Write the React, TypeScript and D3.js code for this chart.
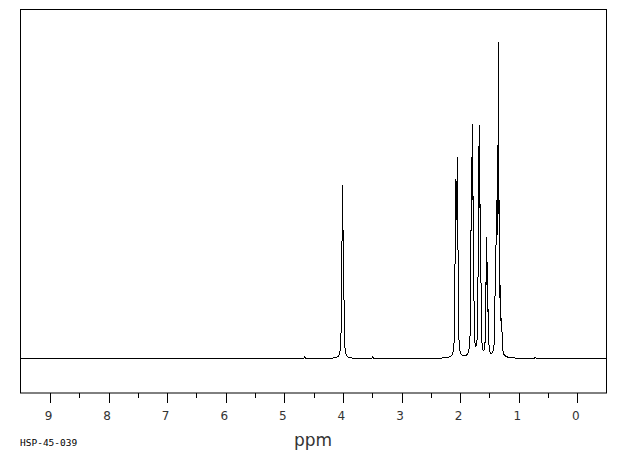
import React from "react";
import * as d3 from "d3";

// Peak list: chemical shift (ppm) and line intensity (tallest line ~ 100)
const PEAK_PPM = [
  4.65, 4.023, 4.011, 3.999, 3.987, 3.49,
  2.085, 2.071, 2.059, 2.048, 2.036,
  1.815, 1.803, 1.792, 1.78, 1.768,
  1.69, 1.68, 1.672, 1.66, 1.645,
  1.56, 1.547, 1.535, 1.52,
  1.40, 1.383, 1.366, 1.345, 1.33, 1.31, 1.29,
  0.72,
];
const PEAK_INTENSITY = [
  0.6, 14, 45, 26, 23, 0.6,
  24, 43, 28, 49, 21,
  26, 42, 54, 33, 17,
  23, 36, 50, 31, 17,
  16, 30, 21, 10,
  22, 38, 54, 89, 33, 16, 9,
  0.4,
];
const LINE_HWHM_PPM = 0.006;

const MAJOR_TICKS = [9, 8, 7, 6, 5, 4, 3, 2, 1, 0];
const MINOR_TICKS = [8.5, 7.5, 6.5, 5.5, 4.5, 3.5, 2.5, 1.5, 0.5];
const X_LABEL = "ppm";
const SAMPLE_ID = "HSP-45-039";

const W = 620;
const H = 455;
const FRAME = { left: 20.5, right: 606.5, top: 9.5, bottom: 393 };

export default function App() {
  const x = d3.scaleLinear().domain([9, 0]).range([50, 577.3]);
  const y = d3.scaleLinear().domain([0, 100]).range([358.5, 40]);

  const ppmLeft = x.invert(FRAME.left);
  const ppmRight = x.invert(FRAME.right);
  const step = 0.0008;
  const pts: [number, number][] = [];
  for (let p = ppmLeft; p >= ppmRight; p -= step) {
    let s = 0;
    for (let i = 0; i < PEAK_PPM.length; i++) {
      const d = p - PEAK_PPM[i];
      s += (PEAK_INTENSITY[i] * LINE_HWHM_PPM * LINE_HWHM_PPM) / (d * d + LINE_HWHM_PPM * LINE_HWHM_PPM);
    }
    pts.push([p, s]);
  }
  const line = d3
    .line<[number, number]>()
    .x((d) => x(d[0]))
    .y((d) => y(d[1]));

  return (
    <svg
      width={W}
      height={H}
      style={{ position: "absolute", left: 0, top: 0, background: "#fff" }}
    >
      <rect x={0} y={0} width={W} height={H} fill="#fff" />
      <rect
        x={FRAME.left}
        y={FRAME.top}
        width={FRAME.right - FRAME.left}
        height={FRAME.bottom - FRAME.top}
        fill="none"
        stroke="#000"
        strokeWidth={1}
      />
      <path
        d={line(pts) || ""}
        fill="none"
        stroke="#000"
        strokeWidth={1}
        shapeRendering="crispEdges"
      />
      {MAJOR_TICKS.map((t) => (
        <g key={"M" + t}>
          <line
            x1={Math.round(x(t)) + 0.5}
            x2={Math.round(x(t)) + 0.5}
            y1={FRAME.bottom}
            y2={FRAME.bottom + 10}
            stroke="#000"
          />
          <text
            x={x(t) - 1.5}
            y={420}
            textAnchor="middle"
            fontFamily="'DejaVu Sans', sans-serif"
            fontSize={12}
            fill="#333"
          >
            {t}
          </text>
        </g>
      ))}
      {MINOR_TICKS.map((t) => (
        <line
          key={"m" + t}
          x1={Math.round(x(t)) + 0.5}
          x2={Math.round(x(t)) + 0.5}
          y1={FRAME.bottom}
          y2={FRAME.bottom + 5}
          stroke="#000"
        />
      ))}
      <text
        x={313}
        y={446}
        textAnchor="middle"
        fontFamily="'DejaVu Sans', sans-serif"
        fontSize={17}
        fill="#333"
      >
        {X_LABEL}
      </text>
      <text
        x={20}
        y={446}
        fontFamily="'DejaVu Sans Mono', monospace"
        fontSize={9.5}
        fill="#000"
      >
        {SAMPLE_ID}
      </text>
    </svg>
  );
}
